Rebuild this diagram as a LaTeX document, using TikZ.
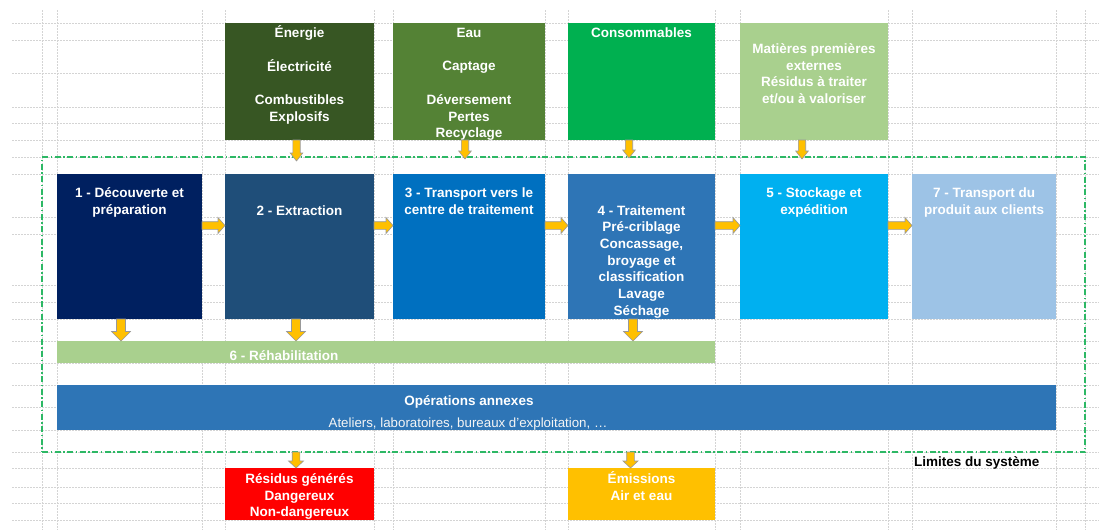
\documentclass[tikz,border=0pt]{standalone}
\usepackage{fontspec}
\setmainfont{Liberation Sans}
\usetikzlibrary{calc}
\definecolor{cEner}{HTML}{375623}
\definecolor{cEau}{HTML}{548235}
\definecolor{cCons}{HTML}{00B050}
\definecolor{cMat}{HTML}{A9D08E}
\definecolor{cB1}{HTML}{002060}
\definecolor{cB2}{HTML}{1F4E79}
\definecolor{cB3}{HTML}{0070C0}
\definecolor{cB4}{HTML}{2E75B6}
\definecolor{cB5}{HTML}{00B0F0}
\definecolor{cB7}{HTML}{9DC3E6}
\definecolor{cRed}{HTML}{FF0000}
\definecolor{cYel}{HTML}{FFC000}
\definecolor{cGrid}{HTML}{D4D4D4}
\definecolor{cFrame}{HTML}{2DB865}
\newcommand\ml[1]{\begin{tabular}[t]{@{}c@{}}#1\end{tabular}}
\newcommand\bx[6]{\node[box, fill=#2, minimum width={#5-#3}, minimum height={#6-#4}] (#1) at (#3,#4) {};}
% horizontal block arrow: from node #1 (east) to node #2 (west) at y=#3
\newcommand\harr[3]{\path[barrow] let \p1=(#1.east), \p2=(#2.west), \p3=(0,#3) in
  (\x1,\y3+3.8pt) -- (\x2-7pt,\y3+3.8pt) -- (\x2-7pt,\y3+8pt) -- (\x2,\y3)
  -- (\x2-7pt,\y3-8pt) -- (\x2-7pt,\y3-3.8pt) -- (\x1,\y3-3.8pt) -- cycle;}
% vertical block arrow: from node #1 (south) towards node #2 (north) at x=#3,
% tip #4 above #2.north, head length #5, head half width #6, shaft half width #7
\newcommand\varr[7]{\path[barrow] let \p1=(#1.south), \p2=(#2.north), \p3=(#3,0) in
  (\x3-#7,\y1) -- (\x3-#7,\y2+#4+#5) -- (\x3-#6,\y2+#4+#5) -- (\x3,\y2+#4)
  -- (\x3+#6,\y2+#4+#5) -- (\x3+#7,\y2+#4+#5) -- (\x3+#7,\y1) -- cycle;}
\begin{document}
\begin{tikzpicture}[x=1pt,y=-1pt,
  box/.style={draw=none, inner sep=0pt, outer sep=0pt, anchor=north west},
  lbl/.style={text=white, font=\bfseries\fontsize{13.5}{16.7}\selectfont, inner sep=0pt, anchor=base},
  barrow/.style={fill=cYel, draw=gray!80, line width=0.6pt, line join=miter},
  gridl/.style={draw=cGrid, line width=0.8pt, dash pattern=on 2pt off 1pt},
  sysframe/.style={draw=cFrame, line width=1.2pt, dash pattern=on 6pt off 2.5pt on 1.5pt off 2.5pt, inner sep=0pt, outer sep=0pt, anchor=north west}]
\useasboundingbox (0,0) rectangle (1099,530);
\fill[white] (0,0) rectangle (1099,530);
% spreadsheet grid
\foreach \yy in {23,40,73,107,123,140,157,174,217,234,285,302,319,341,363,385,407,430,452,468,487,503,520}
  \path[gridl] (12,\yy) -- (1099,\yy);
\foreach \xx in {42,57,202,225,374,393,545,568,715,740,888,912,1056,1085}
  \path[gridl] (\xx,10) -- (\xx,530);
% system boundary
\node[sysframe, minimum width=1043, minimum height=295] (sys) at (42,157) {};
% top input boxes
\bx{ener}{cEner}{225}{23}{374}{140}
\bx{eau}{cEau}{393}{23}{545}{140}
\bx{cons}{cCons}{568}{23}{715}{140}
\bx{mat}{cMat}{740}{23}{888}{140}
% main process boxes
\bx{b1}{cB1}{57}{174}{202}{319}
\bx{b2}{cB2}{225}{174}{374}{319}
\bx{b3}{cB3}{393}{174}{545}{319}
\bx{b4}{cB4}{568}{174}{715}{319}
\bx{b5}{cB5}{740}{174}{888}{319}
\bx{b7}{cB7}{912}{174}{1056}{319}
% bars
\bx{rehab}{cMat}{57}{341}{715}{363}
\bx{ops}{cB4}{57}{385}{1056}{430}
% outputs
\bx{resid}{cRed}{225}{468}{374}{520}
\bx{emis}{cYel}{568}{468}{715}{520}
% texts
\node[lbl] (tEner) at (299.5,37.5) {\ml{Énergie\\ \\ Électricité\\ \\ Combustibles\\ Explosifs}};
\node[lbl] (tEau) at (469,37.5) {\ml{Eau\\ \\ Captage\\ \\ Déversement\\ Pertes\\ Recyclage}};
\node[lbl] (tCons) at (641.5,37.5) {Consommables};
\node[lbl] (tMat) at (814,53.5) {\ml{Matières premières\\ externes\\ Résidus à traiter\\ et/ou à valoriser}};
\node[lbl] (t1) at (129.5,197.5) {\ml{1 - Découverte et\\ préparation}};
\node[lbl] (t2) at (299.5,215) {2 - Extraction};
\node[lbl] (t3) at (469,197.5) {\ml{3 - Transport vers le\\ centre de traitement}};
\node[lbl] (t4) at (641.5,215) {\ml{4 - Traitement\\ Pré-criblage\\ Concassage,\\ broyage et\\ classification\\ Lavage\\ Séchage}};
\node[lbl] (t5) at (814,197.5) {\ml{5 - Stockage et\\ expédition}};
\node[lbl] (t7) at (984,197.5) {\ml{7 - Transport du\\ produit aux clients}};
\node[lbl] (t6) at (284,360) {6 - Réhabilitation};
\node[lbl] (tOps) at (469,405) {Opérations annexes};
\node[lbl, font=\fontsize{13.3}{15}\selectfont, text=white!92!gray] (tOps2) at (468,427) {Ateliers, laboratoires, bureaux d’exploitation, …};
\node[lbl] (tRes) at (299.5,483.5) {\ml{Résidus générés\\ Dangereux\\ Non-dangereux}};
\node[lbl] (tEmi) at (641.5,483.5) {\ml{Émissions\\ Air et eau}};
\node[lbl, text=black, anchor=base west] (tLim) at (914,466) {Limites du système};
% horizontal arrows
\harr{b1}{b2}{225.5}
\harr{b2}{b3}{225.5}
\harr{b3}{b4}{225.5}
\harr{b4}{b5}{225.5}
\harr{b5}{b7}{225.5}
% top input arrows
\varr{ener}{b2}{296.5}{13pt}{8pt}{6.3pt}{3.7pt}
\varr{eau}{b3}{465}{15pt}{8pt}{6.3pt}{3.7pt}
\varr{cons}{b4}{629}{16pt}{8pt}{6.3pt}{3.7pt}
\varr{mat}{b5}{802}{15pt}{8pt}{6.3pt}{3.7pt}
% to rehabilitation
\varr{b1}{rehab}{121}{0pt}{9.5pt}{9.5pt}{4.5pt}
\varr{b2}{rehab}{296}{0pt}{9.5pt}{9.5pt}{4.5pt}
\varr{b4}{rehab}{633}{0pt}{9.5pt}{9.5pt}{4.5pt}
% outputs
\varr{sys}{resid}{296}{0pt}{7pt}{7.5pt}{3.8pt}
\varr{sys}{emis}{630.5}{0pt}{7pt}{7.5pt}{3.8pt}
\end{tikzpicture}
\end{document}
